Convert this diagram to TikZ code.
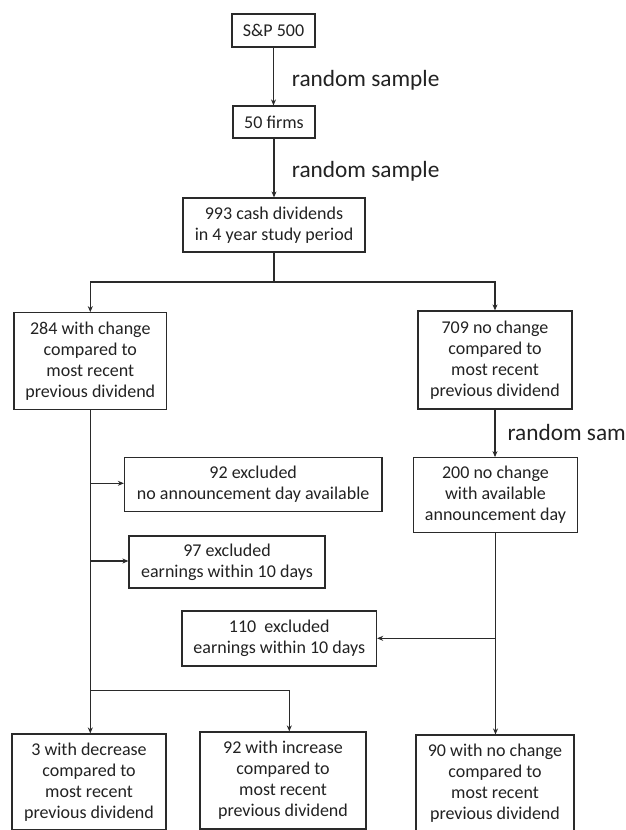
\documentclass[tikz,border=0pt]{standalone}
\usepackage{fontspec}
\setmainfont{Carlito}
\usetikzlibrary{arrows.meta}
\definecolor{ln}{HTML}{2A2A2A}
\definecolor{tx}{HTML}{222222}
\tikzset{
  box/.style={draw=ln, line width=1.2pt, fill=white, align=center, inner sep=0pt,
    text=tx, font=\fontsize{18}{21}\selectfont},
  conn/.style={draw=ln, line width=1.2pt},
  arr/.style={conn, -{Stealth[length=6pt,width=5pt]}},
  lbl/.style={anchor=west, inner sep=0pt, text=tx, font=\fontsize{23.3}{26}\selectfont}
}
\begin{document}
\begin{tikzpicture}[x=1pt,y=-1pt]
\path[use as bounding box] (0,0) rectangle (626,830);
\clip (0,0) rectangle (626,830);
\fill[white] (0,0) rectangle (626,830);

\node[box, minimum width=83pt, minimum height=33pt] (sp) at (273.5,30.5) {S\&P 500};
\node[box, minimum width=82pt, minimum height=32pt] (firms) at (274,122) {50 firms};
\node[box, minimum width=182pt, minimum height=54pt] (cash) at (274,225) {993 cash dividends\\in 4 year study period};
\node[box, minimum width=152.5pt, minimum height=96.5pt] (chg) at (90.3,361) {284 with change\\compared to\\most recent\\previous dividend};
\node[box, minimum width=154pt, minimum height=98pt] (nochg) at (495,360) {709 no change\\compared to\\most recent\\previous dividend};
\node[box, minimum width=257.5pt, minimum height=53.5pt] (exa) at (253.2,484.4) {92 excluded\\no announcement day available};
\node[box, minimum width=164pt, minimum height=74.6pt] (avail) at (495.5,495) {200 no change\\with available\\announcement day};
\node[box, minimum width=196pt, minimum height=52pt] (exb) at (227,562) {97 excluded\\earnings within 10 days};
\node[box, minimum width=194.5pt, minimum height=55pt] (exc) at (279.3,638.5) {110~ excluded\\earnings within 10 days};
\node[box, minimum width=154pt, minimum height=96pt] (dec) at (89,782) {3 with decrease\\compared to\\most recent\\previous dividend};
\node[box, minimum width=166pt, minimum height=97pt] (inc) at (283,780.5) {92 with increase\\compared to\\most recent\\previous dividend};
\node[box, minimum width=158pt, minimum height=96pt] (same) at (495,783) {90 with no change\\compared to\\most recent\\previous dividend};

\node[lbl] (l1) at (291.7,80) {random sample};
\node[lbl] (l2) at (291.7,171.7) {random sample};
\node[lbl] (l3) at (507.3,434) {random sample};

\coordinate (split) at (274,282);
\coordinate (splitL) at (90.3,282);
\coordinate (splitR) at (495,282);
\coordinate (ja) at (90.3,483.3);
\coordinate (jb) at (90.3,561);
\coordinate (jc) at (90.3,690.7);
\coordinate (jcr) at (289.3,690.7);
\coordinate (jd) at (495.5,638.3);

\draw[arr] (sp.south) -- (firms.north -| sp.south);
\draw[arr] (firms.south) -- (cash.north);
\draw[conn] (cash.south) -- (split);
\draw[arr] (split) -- (splitL) -- (chg.north);
\draw[arr] (split) -- (splitR) -- (nochg.north);
\draw[arr] (nochg.south) -- (avail.north -| nochg.south);

\draw[arr] (chg.south) -- (chg.south |- dec.north);
\draw[arr] (ja) -- (exa.west |- ja);
\draw[arr] (jb) -- (exb.west |- jb);
\draw[arr] (jc) -- (jcr) -- (jcr |- inc.north);

\draw[arr] (avail.south) -- (avail.south |- same.north);
\draw[arr] (jd) -- (exc.east |- jd);
\end{tikzpicture}
\end{document}
